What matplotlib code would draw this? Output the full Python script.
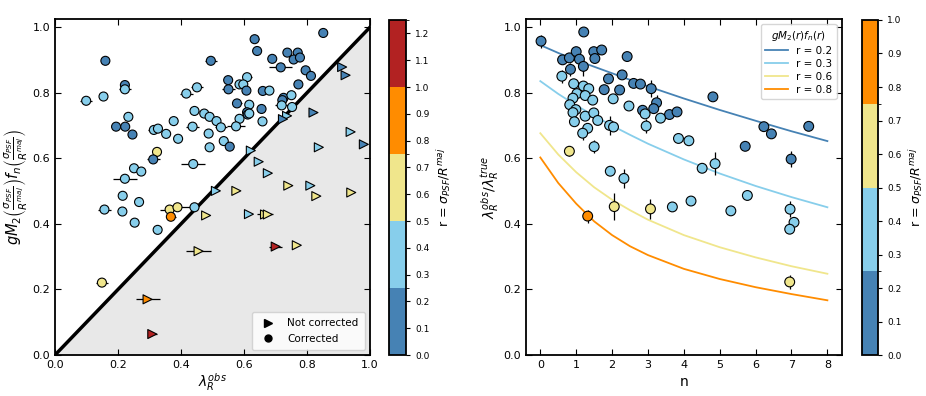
import numpy as np
import matplotlib
matplotlib.use('Agg')
import matplotlib.pyplot as plt
from matplotlib.colors import ListedColormap, BoundaryNorm
from matplotlib.cm import ScalarMappable
from matplotlib.lines import Line2D

plt.rcParams.update({'font.family': 'DejaVu Sans', 'mathtext.fontset': 'dejavusans'})

# ---- left panel: corrected galaxies (circles) ----
lam_c = [0.852, 0.160, 0.495, 0.634, 0.642, 0.738, 0.771, 0.758, 0.778, 0.690,
         0.717, 0.796, 0.813, 0.773, 0.550, 0.610, 0.586, 0.598, 0.551, 0.608,
         0.660, 0.681, 0.726, 0.722, 0.751, 0.720, 0.753, 0.578, 0.617, 0.656,
         0.610, 0.612, 0.617, 0.586, 0.659, 0.222, 0.222, 0.099, 0.154, 0.233,
         0.194, 0.223, 0.246, 0.314, 0.327, 0.353, 0.377, 0.391, 0.417, 0.451,
         0.443, 0.474, 0.491, 0.513, 0.437, 0.488, 0.527, 0.575, 0.536, 0.491,
         0.555, 0.324, 0.312, 0.439, 0.251, 0.274, 0.222, 0.215, 0.267, 0.157,
         0.214, 0.253, 0.326, 0.364, 0.389, 0.368, 0.443, 0.149]
gm_c = [0.983, 0.898, 0.898, 0.964, 0.928, 0.923, 0.923, 0.902, 0.908, 0.904,
        0.878, 0.869, 0.852, 0.826, 0.839, 0.848, 0.826, 0.826, 0.811, 0.807,
        0.806, 0.807, 0.785, 0.778, 0.793, 0.762, 0.757, 0.768, 0.764, 0.751,
        0.741, 0.734, 0.737, 0.721, 0.713, 0.824, 0.811, 0.776, 0.789, 0.727,
        0.697, 0.697, 0.673, 0.687, 0.691, 0.675, 0.714, 0.660, 0.798, 0.817,
        0.745, 0.737, 0.727, 0.714, 0.697, 0.676, 0.695, 0.698, 0.653, 0.634,
        0.636, 0.620, 0.597, 0.583, 0.570, 0.560, 0.538, 0.486, 0.467, 0.444,
        0.438, 0.404, 0.382, 0.444, 0.451, 0.422, 0.451, 0.221]
xerr_c = [0.0, 0.012, 0.02, 0.015, 0.0, 0.0, 0.0, 0.0, 0.0, 0.0,
          0.037, 0.015, 0.0, 0.0, 0.0, 0.015, 0.0, 0.0, 0.02, 0.0,
          0.0, 0.0, 0.0, 0.0, 0.0, 0.02, 0.0, 0.015, 0.0, 0.0,
          0.0, 0.0, 0.0, 0.0, 0.0, 0.0, 0.02, 0.02, 0.0, 0.0,
          0.0, 0.0, 0.0, 0.02, 0.0, 0.0, 0.0, 0.0, 0.02, 0.02,
          0.015, 0.0, 0.0, 0.0, 0.02, 0.0, 0.02, 0.03, 0.0, 0.0,
          0.0, 0.0, 0.02, 0.038, 0.0, 0.0, 0.037, 0.0, 0.0, 0.02,
          0.0, 0.0, 0.0, 0.03, 0.04, 0.015, 0.0, 0.02]
r_c = [0.2, 0.2, 0.2, 0.2, 0.2, 0.2, 0.2, 0.2, 0.2, 0.2,
       0.2, 0.2, 0.2, 0.2, 0.2, 0.35, 0.35, 0.35, 0.2, 0.2,
       0.2, 0.35, 0.2, 0.2, 0.35, 0.35, 0.35, 0.2, 0.35, 0.2,
       0.2, 0.2, 0.35, 0.35, 0.35, 0.2, 0.35, 0.35, 0.35, 0.35,
       0.2, 0.2, 0.2, 0.35, 0.35, 0.35, 0.35, 0.35, 0.35, 0.35,
       0.35, 0.35, 0.35, 0.35, 0.35, 0.35, 0.35, 0.35, 0.35, 0.35,
       0.2, 0.6, 0.2, 0.35, 0.35, 0.35, 0.35, 0.35, 0.35, 0.35,
       0.35, 0.35, 0.35, 0.6, 0.6, 0.85, 0.35, 0.6]

# ---- left panel: not corrected galaxies (triangles) ----
lam_t = [0.912, 0.923, 0.821, 0.737, 0.724, 0.939, 0.981, 0.838, 0.622, 0.647,
         0.676, 0.511, 0.576, 0.741, 0.811, 0.830, 0.941, 0.480, 0.616, 0.667,
         0.676, 0.701, 0.768, 0.456, 0.294, 0.309]
gm_t = [0.879, 0.854, 0.740, 0.730, 0.720, 0.681, 0.643, 0.634, 0.624, 0.590,
        0.555, 0.501, 0.501, 0.517, 0.517, 0.485, 0.496, 0.426, 0.430, 0.429,
        0.429, 0.331, 0.335, 0.317, 0.170, 0.064]
xerr_t = [0.0, 0.0, 0.0, 0.0, 0.0, 0.0, 0.0, 0.0, 0.0, 0.0,
          0.0, 0.0, 0.0, 0.0, 0.0, 0.0, 0.0, 0.0, 0.0, 0.025,
          0.0, 0.02, 0.0, 0.04, 0.038, 0.015]
r_t = [0.2, 0.2, 0.2, 0.35, 0.2, 0.35, 0.2, 0.35, 0.35, 0.35,
       0.35, 0.35, 0.6, 0.6, 0.35, 0.6, 0.6, 0.6, 0.35, 0.6,
       0.6, 1.1, 0.6, 0.6, 0.85, 1.1]

# ---- right panel: ratio vs Sersic n ----
n_pts = [0.02, 1.21, 0.62, 0.81, 1.00, 1.09, 1.20, 0.84, 1.49, 1.71,
         1.52, 2.42, 1.90, 2.28, 1.78, 2.21, 2.60, 2.79, 3.09, 3.24,
         3.16, 2.85, 3.60, 3.81, 4.81, 6.23, 6.44, 7.48, 5.71, 6.99,
         0.60, 0.93, 1.02, 0.91, 0.82, 0.99, 0.91, 0.95, 1.20, 1.35,
         1.25, 1.46, 1.25, 1.49, 1.60, 1.32, 1.18, 1.50, 2.03, 2.47,
         1.93, 2.04, 2.95, 2.92, 3.35, 3.85, 4.14, 4.51, 4.87, 1.95,
         2.33, 3.68, 4.20, 5.31, 5.77, 6.96, 7.07, 6.95,
         0.81, 2.06, 3.07, 6.95, 1.32]
ratio = [0.958, 0.986, 0.901, 0.907, 0.926, 0.903, 0.881, 0.872, 0.926, 0.931,
         0.905, 0.911, 0.843, 0.855, 0.810, 0.809, 0.829, 0.827, 0.813, 0.770,
         0.752, 0.747, 0.734, 0.742, 0.788, 0.697, 0.675, 0.698, 0.637, 0.598,
         0.851, 0.828, 0.798, 0.784, 0.764, 0.749, 0.740, 0.712, 0.821, 0.813,
         0.792, 0.778, 0.729, 0.739, 0.716, 0.692, 0.677, 0.636, 0.782, 0.760,
         0.701, 0.696, 0.699, 0.736, 0.723, 0.661, 0.654, 0.570, 0.584, 0.561,
         0.539, 0.452, 0.470, 0.440, 0.487, 0.445, 0.405, 0.384,
         0.622, 0.453, 0.446, 0.223, 0.424]
ratio_err = [0.02, 0.0, 0.0, 0.0, 0.0, 0.0, 0.03, 0.02, 0.0, 0.0,
             0.0, 0.0, 0.0, 0.0, 0.0, 0.0, 0.0, 0.0, 0.025, 0.025,
             0.0, 0.0, 0.0, 0.0, 0.0, 0.0, 0.0, 0.0, 0.0, 0.025,
             0.02, 0.0, 0.0, 0.0, 0.0, 0.0, 0.0, 0.0, 0.0, 0.0,
             0.0, 0.0, 0.0, 0.0, 0.0, 0.0, 0.02, 0.02, 0.0, 0.0,
             0.03, 0.0, 0.02, 0.0, 0.0, 0.0, 0.0, 0.0, 0.035, 0.0,
             0.03, 0.0, 0.0, 0.0, 0.0, 0.025, 0.0, 0.0,
             0.015, 0.04, 0.03, 0.02, 0.02]
r_pts = [0.2] * 30 + [0.35] * 38 + [0.6, 0.6, 0.6, 0.6, 0.85]

# model curves
n_curve = [0, 0.5, 1, 1.5, 2, 2.5, 3, 4, 5, 6, 7, 8]
curve_r02 = [0.946, 0.922, 0.900, 0.880, 0.860, 0.840, 0.820, 0.783, 0.748, 0.715, 0.683, 0.653]
curve_r03 = [0.836, 0.797, 0.762, 0.730, 0.700, 0.672, 0.645, 0.597, 0.554, 0.516, 0.482, 0.451]
curve_r06 = [0.677, 0.612, 0.558, 0.512, 0.474, 0.442, 0.413, 0.366, 0.329, 0.298, 0.271, 0.248]
curve_r08 = [0.603, 0.525, 0.462, 0.408, 0.366, 0.332, 0.305, 0.263, 0.232, 0.207, 0.186, 0.167]

cols = ['steelblue', 'skyblue', 'khaki', 'darkorange', 'firebrick']
cmap_l = ListedColormap(cols)
norm_l = BoundaryNorm([0, 0.25, 0.5, 0.75, 1.0, 1.25], 5)
cmap_r = ListedColormap(cols[:4])
norm_r = BoundaryNorm([0, 0.25, 0.5, 0.75, 1.0], 4)

fig = plt.figure(figsize=(9.26, 3.96), dpi=100)
ax1 = fig.add_axes([0.0594, 0.1035, 0.340, 0.848])
cax1 = fig.add_axes([0.420, 0.1035, 0.0184, 0.846])
ax2 = fig.add_axes([0.568, 0.1035, 0.341, 0.848])
cax2 = fig.add_axes([0.931, 0.1035, 0.0173, 0.846])

# left
xx = np.array([0, 1])
ax1.fill_between(xx, [0, 0], xx, color='#e8e8e8', zorder=0)
ax1.plot(xx, xx, color='k', lw=2.5, zorder=1)
ax1.errorbar(lam_c, gm_c, xerr=xerr_c, fmt='none', ecolor='k', elinewidth=0.9, zorder=2)
ax1.errorbar(lam_t, gm_t, xerr=xerr_t, fmt='none', ecolor='k', elinewidth=0.9, zorder=2)
ax1.scatter(lam_c, gm_c, c=r_c, cmap=cmap_l, norm=norm_l, s=42, marker='o',
            edgecolors='k', linewidths=0.8, zorder=3)
ax1.scatter(lam_t, gm_t, c=r_t, cmap=cmap_l, norm=norm_l, s=42, marker='>',
            edgecolors='k', linewidths=0.8, zorder=3)
ax1.set_xlim(0, 1)
ax1.set_ylim(0, 1.025)
ax1.set_xticks(np.arange(0, 1.01, 0.2))
ax1.set_yticks(np.arange(0, 1.01, 0.2))
ax1.set_xlabel(r'$\lambda_R^{obs}$', fontsize=10, labelpad=1)
ax1.set_ylabel(r'$gM_2\left(\frac{\sigma_{PSF}}{R^{maj}}\right)f_n\left(\frac{\sigma_{PSF}}{R^{maj}}\right)$',
               fontsize=10.5, labelpad=2)
handles = [Line2D([], [], marker='>', color='k', ls='none', ms=6),
           Line2D([], [], marker='o', color='k', ls='none', ms=5)]
ax1.legend(handles, ['Not corrected', 'Corrected'], loc='lower right', fontsize=7.5,
           handletextpad=0.8, borderpad=0.6, framealpha=0.8)

# right
ax2.plot(n_curve, curve_r02, color='steelblue', lw=1.3, label='r = 0.2', zorder=1)
ax2.plot(n_curve, curve_r03, color='skyblue', lw=1.3, label='r = 0.3', zorder=1)
ax2.plot(n_curve, curve_r06, color='khaki', lw=1.3, label='r = 0.6', zorder=1)
ax2.plot(n_curve, curve_r08, color='darkorange', lw=1.3, label='r = 0.8', zorder=1)
ax2.errorbar(n_pts, ratio, yerr=ratio_err, fmt='none', ecolor='k', elinewidth=0.9, zorder=2)
ax2.scatter(n_pts, ratio, c=r_pts, cmap=cmap_r, norm=norm_r, s=50, marker='o',
            edgecolors='k', linewidths=0.8, zorder=3)
ax2.set_xlim(-0.4, 8.4)
ax2.set_ylim(0, 1.025)
ax2.set_xticks(range(0, 9))
ax2.set_yticks(np.arange(0, 1.01, 0.2))
ax2.set_xlabel('n', fontsize=10)
ax2.set_ylabel(r'$\lambda_R^{obs}/\lambda_R^{true}$', fontsize=10, labelpad=2)
leg = ax2.legend(loc='upper right', title=r'$gM_2(r)f_n(r)$', fontsize=7.5,
                 title_fontsize=7.5, handlelength=2.2, borderpad=0.4, labelspacing=0.3)

for ax in (ax1, ax2):
    ax.tick_params(direction='in', top=True, right=True, labelsize=8, length=4, width=0.8)
    for sp in ax.spines.values():
        sp.set_linewidth(1.3)

# colorbars
cb1 = fig.colorbar(ScalarMappable(norm=norm_l, cmap=cmap_l), cax=cax1,
                   ticks=np.arange(0, 1.26, 0.1))
cb1.ax.set_yticklabels(['%.1f' % t for t in np.arange(0, 1.26, 0.1)])
cb2 = fig.colorbar(ScalarMappable(norm=norm_r, cmap=cmap_r), cax=cax2,
                   ticks=np.arange(0, 1.01, 0.1))
cb2.ax.set_yticklabels(['%.1f' % t for t in np.arange(0, 1.01, 0.1)])
for cb in (cb1, cb2):
    cb.outline.set_linewidth(1.3)
    cb.ax.tick_params(labelsize=6.5, length=3, width=0.8)
    cb.set_label(r'r = $\sigma_{PSF}/R^{maj}$', fontsize=9, labelpad=4)

fig.savefig('out.png', dpi=100)
